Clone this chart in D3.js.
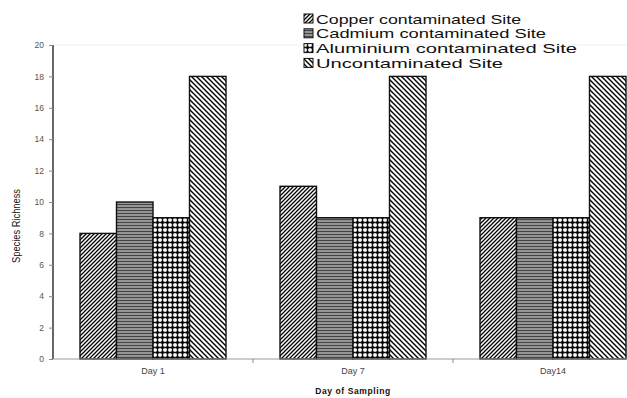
<!DOCTYPE html>
<html><head><meta charset="utf-8">
<script src="https://cdn.jsdelivr.net/npm/d3@7/dist/d3.min.js"></script>
<style>body{margin:0;background:#fff}svg{display:block}text{font-family:Arial,"Liberation Sans",sans-serif}</style>
</head><body><svg id="c" width="627" height="398"></svg>
<script>
const categories = ["Day 1", "Day 7", "Day14"];
const seriesNames = ["Copper contaminated Site", "Cadmium contaminated Site", "Aluminium contaminated Site", "Uncontaminated Site"];
const copper = [8, 11, 9];
const cadmium = [10, 9, 9];
const aluminium = [9, 9, 9];
const uncontaminated = [18, 18, 18];
const yTicks = [0, 2, 4, 6, 8, 10, 12, 14, 16, 18, 20];
const series = [copper, cadmium, aluminium, uncontaminated];
const patIds = ["pCu", "pCd", "pAl", "pUn"];
// legend text widths in the reference (layout only)
const legendWidths = [205, 230, 261, 187];

const svg = d3.select("#c");
const defs = svg.append("defs");
// Copper: "/" diagonals
let p = defs.append("pattern").attr("id","pCu").attr("patternUnits","userSpaceOnUse").attr("width",4).attr("height",4);
p.append("rect").attr("width",4).attr("height",4).attr("fill","#fff");
p.append("path").attr("d","M-1,1 l2,-2 M0,4 l4,-4 M3,5 l2,-2").attr("stroke","#000").attr("stroke-width",1.3);
// Cadmium: horizontal lines on grey
p = defs.append("pattern").attr("id","pCd").attr("patternUnits","userSpaceOnUse").attr("width",4).attr("height",3);
p.append("rect").attr("width",4).attr("height",3).attr("fill","#959595");
p.append("path").attr("d","M0,0.5 h4").attr("stroke","#444").attr("stroke-width",1);
// Aluminium: grid of dark crosses
p = defs.append("pattern").attr("id","pAl").attr("patternUnits","userSpaceOnUse").attr("width",5).attr("height",5);
p.append("rect").attr("width",5).attr("height",5).attr("fill","#fff");
p.append("path").attr("d","M2.5,0 v5 M0,2.5 h5").attr("stroke","#111").attr("stroke-width",1.4);
p.append("rect").attr("x",1.3).attr("y",1.3).attr("width",2.4).attr("height",2.4).attr("fill","#000");
// Uncontaminated: "\" diagonals
p = defs.append("pattern").attr("id","pUn").attr("patternUnits","userSpaceOnUse").attr("width",5).attr("height",5);
p.append("rect").attr("width",5).attr("height",5).attr("fill","#fff");
p.append("path").attr("d","M-1,4 l2,2 M0,0 l5,5 M4,-1 l2,2").attr("stroke","#000").attr("stroke-width",1.4);

const x0 = d3.scaleBand().domain(categories).range([53, 653]).paddingInner(0.27).paddingOuter(0.135);
const x1 = d3.scaleBand().domain(d3.range(series.length)).range([0, x0.bandwidth()]);
const y = d3.scaleLinear().domain([0, 20]).range([359, 45]);

// faint top line
svg.append("line").attr("x1",53).attr("x2",627).attr("y1",y(20)).attr("y2",y(20)).attr("stroke","#f0f0f0");

// bars
categories.forEach((c, i) => {
  series.forEach((s, j) => {
    svg.append("rect")
      .attr("x", x0(c) + x1(j))
      .attr("y", y(s[i]))
      .attr("width", x1.bandwidth())
      .attr("height", y(0) - y(s[i]))
      .attr("fill", `url(#${patIds[j]})`)
      .attr("stroke", "#111").attr("stroke-width", 1.4);
  });
});

// y axis
const yAxis = svg.append("g").attr("transform","translate(53,0)")
  .call(d3.axisLeft(y).tickValues(yTicks).tickSize(4).tickPadding(5));
yAxis.select(".domain").attr("stroke","#000").attr("stroke-width",1.2).attr("d",`M0,${y(20)}V${y(0)}`);
yAxis.selectAll(".tick line").attr("stroke","#888");
yAxis.selectAll(".tick text").attr("fill","#555").style("font-size","8.5px");

// x axis
svg.append("line").attr("x1",53).attr("x2",627).attr("y1",y(0)).attr("y2",y(0)).attr("stroke","#999").attr("stroke-width",1.2);
const bounds = [x0.step() + 53, 2 * x0.step() + 53];
bounds.forEach(b => svg.append("line").attr("x1",b).attr("x2",b).attr("y1",y(0)).attr("y2",y(0)+4).attr("stroke","#888"));
categories.forEach(c => {
  svg.append("text").attr("x", x0(c) + x0.bandwidth()/2).attr("y", 374)
    .attr("text-anchor","middle").attr("fill","#444").style("font-size","9px").text(c);
});

// axis titles
svg.append("text").attr("x",353).attr("y",394).attr("text-anchor","middle")
  .style("font-size","8.5px").style("font-weight","bold").style("letter-spacing","0.6px").attr("fill","#111").text("Day of Sampling");
svg.append("text").attr("transform","translate(20,226) rotate(-90)").attr("text-anchor","middle")
  .style("font-size","10px").attr("fill","#111").attr("textLength",74).attr("lengthAdjust","spacingAndGlyphs").text("Species Richness");

// legend
const leg = svg.append("g");
seriesNames.forEach((n, j) => {
  const yy = 14 + j * 14.8;
  leg.append("rect").attr("x",304).attr("y",yy).attr("width",9).attr("height",9)
    .attr("fill",`url(#${patIds[j]})`).attr("stroke","#111").attr("stroke-width",1);
  leg.append("text").attr("x",316).attr("y",yy+9.5).style("font-size","13px").attr("fill","#111")
    .attr("textLength",legendWidths[j]).attr("lengthAdjust","spacingAndGlyphs").text(n);
});
</script>
</body></html>
